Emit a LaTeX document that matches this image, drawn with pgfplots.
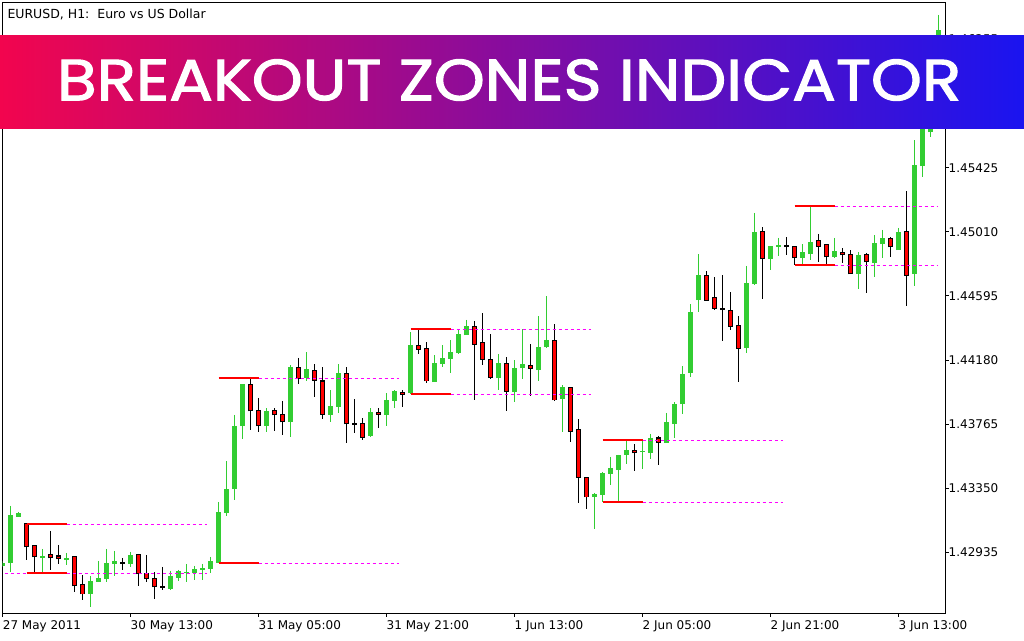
\documentclass[border=0pt]{standalone}
\usepackage{pgfplots}
\pgfplotsset{compat=1.18}
\usepackage{pgfplotstable}
\usepackage{fontspec}
\setmainfont{DejaVu Sans}
\newfontfamily\bannerfont{Poppins}[FakeBold=1.8]
\definecolor{bullg}{RGB}{50,205,50}
\definecolor{bearr}{RGB}{255,0,0}
\definecolor{zonem}{RGB}{255,0,255}
\definecolor{banL}{RGB}{242,5,78}
\definecolor{banR}{RGB}{26,20,240}

\pgfplotstableread{
i o h l c
0 1.42847 1.42879 1.42840 1.42866
1 1.42866 1.43235 1.42808 1.43177
2 1.43164 1.43196 1.43164 1.43190
5 1.42899 1.42957 1.42808 1.42911
8 1.42886 1.42931 1.42853 1.42899
11 1.42665 1.42782 1.42581 1.42750
12 1.42743 1.42879 1.42743 1.42769
13 1.42763 1.42957 1.42743 1.42866
14 1.42860 1.42944 1.42782 1.42879
16 1.42860 1.42937 1.42840 1.42918
21 1.42698 1.42814 1.42691 1.42782
22 1.42769 1.42821 1.42750 1.42814
23 1.42801 1.42860 1.42743 1.42808
24 1.42801 1.42847 1.42756 1.42827
25 1.42821 1.42860 1.42756 1.42834
26 1.42827 1.42905 1.42801 1.42879
27 1.42866 1.43261 1.42866 1.43196
28 1.43190 1.43526 1.43170 1.43345
29 1.43345 1.43824 1.43274 1.43753
30 1.43753 1.44024 1.43669 1.44024
33 1.43753 1.43869 1.43714 1.43850
36 1.43779 1.44147 1.43681 1.44134
38 1.44063 1.44231 1.44044 1.44121
41 1.43824 1.43985 1.43779 1.43882
42 1.43876 1.44154 1.43837 1.44095
46 1.43688 1.43869 1.43681 1.43843
48 1.43824 1.43966 1.43753 1.43921
49 1.43915 1.43985 1.43869 1.43979
51 1.43966 1.44361 1.43959 1.44277
54 1.44037 1.44212 1.44037 1.44160
55 1.44154 1.44277 1.44134 1.44193
56 1.44186 1.44309 1.44095 1.44231
57 1.44225 1.44380 1.44218 1.44348
58 1.44341 1.44439 1.44341 1.44400
62 1.44063 1.44218 1.43985 1.44160
64 1.43972 1.44180 1.43908 1.44128
65 1.44128 1.44380 1.44057 1.44154
67 1.44115 1.44464 1.44044 1.44264
68 1.44264 1.44594 1.44257 1.44309
70 1.43927 1.44018 1.43714 1.44005
74 1.43293 1.43319 1.43086 1.43312
75 1.43306 1.43455 1.43261 1.43448
76 1.43442 1.43552 1.43371 1.43481
77 1.43468 1.43565 1.43261 1.43565
78 1.43565 1.43656 1.43507 1.43597
80 1.43584 1.43662 1.43474 1.43591
81 1.43578 1.43701 1.43539 1.43675
83 1.43643 1.43837 1.43643 1.43779
84 1.43766 1.43908 1.43675 1.43895
85 1.43895 1.44141 1.43830 1.44089
86 1.44095 1.44542 1.44069 1.44490
87 1.44568 1.44866 1.44490 1.44730
93 1.44257 1.44789 1.44225 1.44679
94 1.44672 1.45132 1.44666 1.45009
96 1.44834 1.44918 1.44763 1.44918
97 1.44912 1.44970 1.44853 1.44925
100 1.44841 1.44931 1.44802 1.44879
101 1.44866 1.45171 1.44828 1.44944
104 1.44847 1.44970 1.44841 1.44886
107 1.44737 1.44879 1.44640 1.44860
109 1.44808 1.44989 1.44717 1.44938
110 1.44931 1.45022 1.44841 1.44970
112 1.44892 1.45035 1.44892 1.45009
114 1.44737 1.45604 1.44659 1.45442
115 1.45436 1.45785 1.45365 1.45695
116 1.45656 1.45961 1.45623 1.45896
117 1.45896 1.46414 1.45863 1.46317
}\bull

\pgfplotstableread{
i o h l c
3 1.43119 1.43119 1.42886 1.42970
4 1.42976 1.42976 1.42808 1.42905
6 1.42918 1.43073 1.42821 1.42899
7 1.42911 1.42983 1.42860 1.42892
9 1.42905 1.42911 1.42678 1.42717
10 1.42724 1.42788 1.42627 1.42665
17 1.42918 1.42924 1.42717 1.42795
18 1.42795 1.42918 1.42743 1.42763
19 1.42763 1.42808 1.42633 1.42711
31 1.44024 1.44057 1.43727 1.43850
32 1.43856 1.43934 1.43714 1.43753
34 1.43850 1.43869 1.43720 1.43824
35 1.43824 1.43915 1.43694 1.43779
37 1.44134 1.44193 1.44024 1.44063
39 1.44115 1.44154 1.43940 1.44050
40 1.44044 1.44134 1.43798 1.43830
43 1.44095 1.44134 1.43643 1.43766
45 1.43766 1.43804 1.43662 1.43681
47 1.43843 1.43869 1.43740 1.43830
50 1.43972 1.43985 1.43876 1.43959
52 1.44277 1.44374 1.44218 1.44251
53 1.44257 1.44296 1.44031 1.44044
59 1.44400 1.44432 1.43921 1.44283
60 1.44296 1.44484 1.44147 1.44186
61 1.44186 1.44348 1.44057 1.44069
63 1.44160 1.44199 1.43850 1.43979
66 1.44147 1.44283 1.43946 1.44128
69 1.44309 1.44413 1.43915 1.43921
71 1.44005 1.44005 1.43649 1.43720
72 1.43727 1.43798 1.43255 1.43422
73 1.43422 1.43422 1.43216 1.43293
79 1.43597 1.43636 1.43461 1.43578
82 1.43675 1.43688 1.43500 1.43649
88 1.44730 1.44756 1.44562 1.44568
89 1.44582 1.44717 1.44503 1.44516
91 1.44503 1.44620 1.44374 1.44400
92 1.44406 1.44464 1.44037 1.44257
95 1.45015 1.45041 1.44575 1.44834
99 1.44918 1.44918 1.44795 1.44841
102 1.44951 1.44996 1.44815 1.44918
103 1.44925 1.44931 1.44802 1.44847
105 1.44879 1.44905 1.44808 1.44860
106 1.44860 1.44892 1.44737 1.44737
108 1.44860 1.44873 1.44614 1.44815
111 1.44964 1.44976 1.44847 1.44912
113 1.45009 1.45274 1.44529 1.44730
}\bear

\pgfplotstableread{
i o h l c
15 1.42866 1.42899 1.42821 1.42866
20 1.42711 1.42840 1.42691 1.42711
44 1.43766 1.43927 1.43707 1.43766
90 1.44510 1.44730 1.44303 1.44510
98 1.44918 1.44976 1.44860 1.44918
}\doji

\begin{document}
\begin{tikzpicture}
\fill[white] (0,0) rectangle (1024pt,640pt);
\begin{axis}[
  at={(2.7pt,26.7pt)}, anchor=south west,
  width=942.3pt, height=611pt, scale only axis,
  xmin=0.025, xmax=117.8125,
  ymin=1.42540, ymax=1.46496,
  axis line style={line width=0.9pt},
  tick align=outside, major tick length=3.5pt,
  tick style={black, line width=0.9pt},
  xtick pos=left, ytick pos=right,
  scaled y ticks=false, scaled x ticks=false,
  xtick={0.025,16,32,48,64,80,96,112},
  xticklabels={27 May 2011, 30 May 13:00, 31 May 05:00, 31 May 21:00, 1 Jun 13:00, 2 Jun 05:00, 2 Jun 21:00, 3 Jun 13:00},
  ytick={1.42935,1.43350,1.43765,1.44180,1.44595,1.45010,1.45425,1.45840,1.46255},
  yticklabels={1.42935,1.43350,1.43765,1.44180,1.44595,1.45010,1.45425,1.45840,1.46255},
  yticklabel pos=right,
  ticklabel style={font=\fontsize{12}{14}\selectfont},
  xticklabel style={anchor=north west, inner sep=0pt, yshift=-4pt},
  yticklabel style={anchor=west, inner sep=0pt, xshift=0pt},
  clip=true,
  candle/.style={forget plot, draw=none, mark=none,
    error bars/y explicit, error bars/error mark=none},
]
% wicks
\addplot [candle, error bars/y dir=minus,
  error bars/error bar style={draw=bullg, line width=1pt}]
  table [x=i, y=h, y error expr=\thisrow{h}-\thisrow{l}] {\bull};
\addplot [candle, error bars/y dir=minus,
  error bars/error bar style={draw=black, line width=1pt}]
  table [x=i, y=h, y error expr=\thisrow{h}-\thisrow{l}] {\bear};
\addplot [candle, error bars/y dir=minus,
  error bars/error bar style={draw=black, line width=1pt}]
  table [x=i, y=h, y error expr=\thisrow{h}-\thisrow{l}] {\doji};
% bodies
\addplot [candle, error bars/y dir=plus,
  error bars/error bar style={draw=bullg, line width=5pt}]
  table [x=i, y=o, y error expr=\thisrow{c}-\thisrow{o}] {\bull};
\addplot [candle, error bars/y dir=plus,
  error bars/error bar style={draw=black, line width=5pt}]
  table [x=i, y expr=\thisrow{c}-0.000032, y error expr=\thisrow{o}-\thisrow{c}+0.000065] {\bear};
\addplot [candle, error bars/y dir=plus,
  error bars/error bar style={draw=bearr, line width=3pt}]
  table [x=i, y expr=\thisrow{c}+0.000032, y error expr=\thisrow{o}-\thisrow{c}-0.000065] {\bear};
\addplot [candle, error bars/y dir=plus,
  error bars/error bar style={draw=black, line width=5pt}]
  table [x=i, y expr=\thisrow{c}-0.000065, y error expr=0.00013] {\doji};
% breakout zones
\pgfplotsset{zone/.style={draw=bearr, line width=2pt, forget plot, mark=none},
  ext/.style={draw=zonem, line width=1pt, dash pattern=on 3pt off 3pt, forget plot, mark=none}}
\addplot [ext] coordinates {(-0.5,1.42798) (3,1.42798)};
\addplot [zone] coordinates {(3,1.43118) (8,1.43118)};
\addplot [zone] coordinates {(3,1.42801) (8,1.42801)};
\addplot [ext] coordinates {(8,1.43115) (25.6,1.43115)};
\addplot [ext] coordinates {(8,1.42798) (25.6,1.42798)};
\addplot [zone] coordinates {(27,1.44063) (32,1.44063)};
\addplot [zone] coordinates {(27,1.42865) (32,1.42865)};
\addplot [ext] coordinates {(32,1.44060) (49.6,1.44060)};
\addplot [ext] coordinates {(32,1.42862) (49.6,1.42862)};
\addplot [zone] coordinates {(51,1.44380) (56,1.44380)};
\addplot [zone] coordinates {(51,1.43960) (56,1.43960)};
\addplot [ext] coordinates {(56,1.44377) (73.6,1.44377)};
\addplot [ext] coordinates {(56,1.43957) (73.6,1.43957)};
\addplot [zone] coordinates {(75,1.43662) (80,1.43662)};
\addplot [zone] coordinates {(75,1.43260) (80,1.43260)};
\addplot [ext] coordinates {(80,1.43659) (97.6,1.43659)};
\addplot [ext] coordinates {(80,1.43257) (97.6,1.43257)};
\addplot [zone] coordinates {(99,1.45177) (104,1.45177)};
\addplot [zone] coordinates {(99,1.44795) (104,1.44795)};
\addplot [ext] coordinates {(104,1.45174) (116.9,1.45174)};
\addplot [ext] coordinates {(104,1.44792) (116.9,1.44792)};
\end{axis}
\node[anchor=base west, inner sep=0pt, font=\fontsize{12.5}{14}\selectfont] at (7.3pt,621pt) {EURUSD, H1:\ \ Euro vs US Dollar};
\shade[left color=banL, right color=banR] (0,511pt) rectangle (1024pt,604.7pt);
\node[anchor=base west, inner sep=0pt, text=white] at (56.7pt,539.7pt) {\resizebox{904pt}{41pt}{\bannerfont BREAKOUT ZONES INDICATOR}};
\pgfresetboundingbox
\path[use as bounding box] (0,0) rectangle (1024pt,640pt);
\end{tikzpicture}
\end{document}
